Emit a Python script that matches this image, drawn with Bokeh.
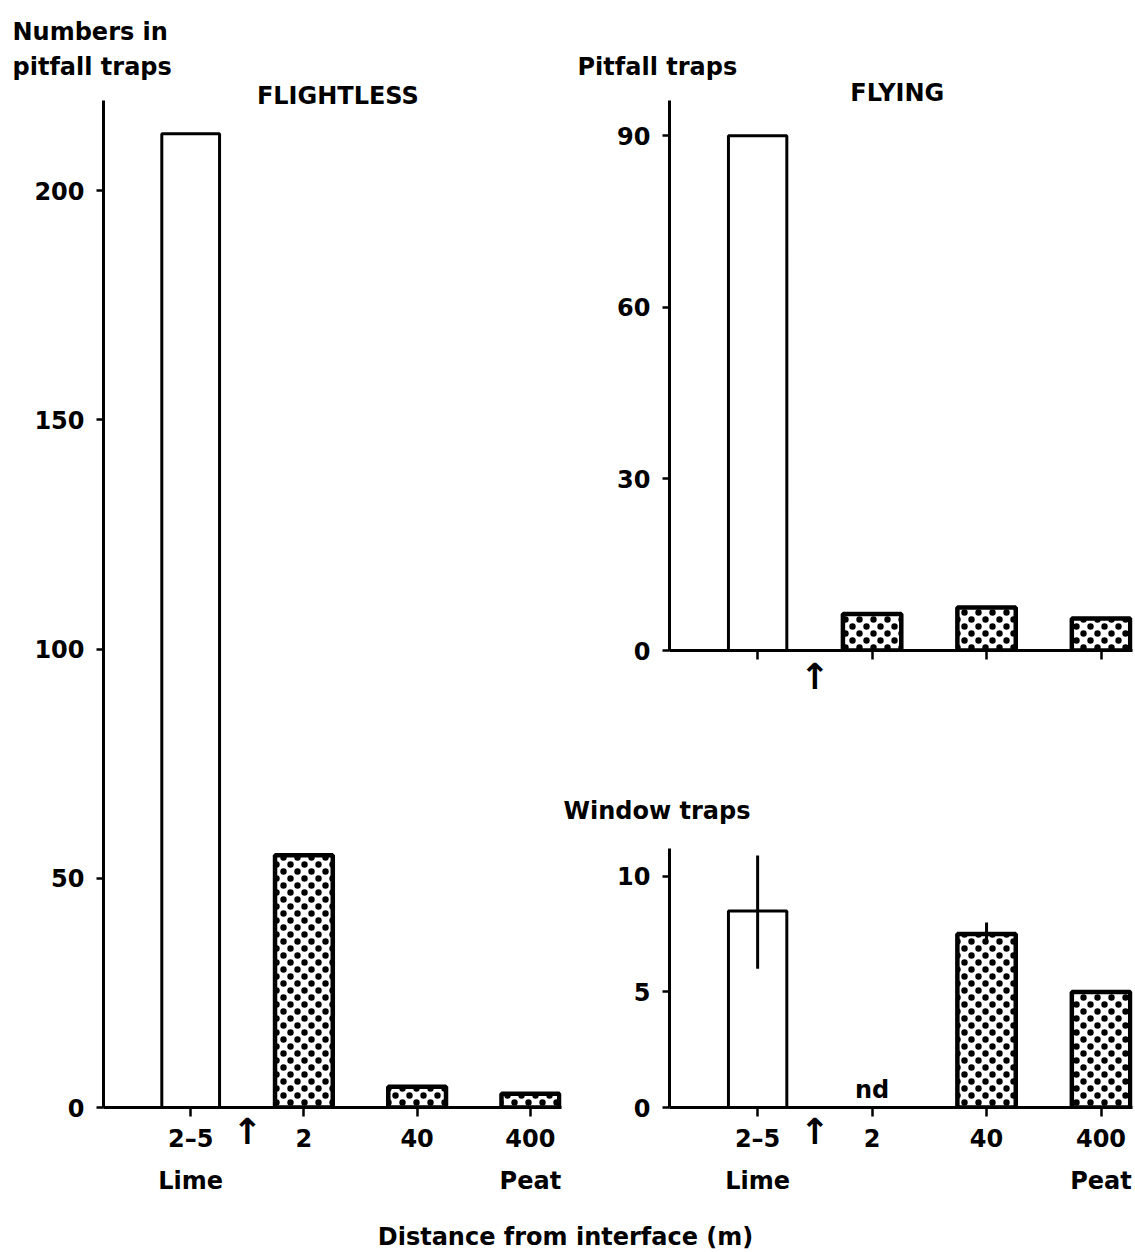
import math
from bokeh.plotting import figure
from bokeh.models import (Range1d, FixedTicker, LinearAxis, Label, Title,
                          ColumnDataSource, CanvasTexture)
from bokeh.layouts import row, column
from bokeh.embed import file_html
from bokeh.resources import INLINE
from bokeh.core.properties import value

NAN = float("nan")

# ---- data ----
categories = ["2–5", "2", "40", "400"]          # distance from interface (m)
habitats = {1: "Lime", 4: "Peat"}
interface_pos = 1.5                            # arrow = lime/peat interface
flightless_pitfall = [212.4, 55.0, 4.5, 3.0]
flying_pitfall = [90.0, 6.4, 7.5, 5.6]
flying_window = [8.5, NAN, 7.5, 5.0]
window_err_low = [6.0, NAN, 7.1, NAN]
window_err_high = [10.9, NAN, 8.0, NAN]
window_notes = ["", "nd", "", ""]
flightless_ticks = [0, 50, 100, 150, 200]
pitfall_ticks = [0, 30, 60, 90]
window_ticks = [0, 5, 10]
bar_hatch = [" ", "stipple", "stipple", "stipple"]   # lime site open, peat sites stippled
bar_line = [3, 4.5, 4.5, 4.5]

xs = list(range(1, len(categories) + 1))
FONT = "DejaVu Sans"
FS = "24px"

# staggered stipple texture (two dots per 14 px tile)
STIPPLE = CanvasTexture(repetition="repeat", code="""
const c = ctx.canvas;
c.width = 14; c.height = 14;
ctx.fillStyle = 'black';
ctx.beginPath(); ctx.arc(3.5, 3.5, 3.2, 0, 2 * Math.PI); ctx.fill();
ctx.beginPath(); ctx.arc(10.5, 10.5, 3.2, 0, 2 * Math.PI); ctx.fill();
""")


def bold(obj, prefix="text_", size=FS):
    setattr(obj, prefix + "font", FONT)
    setattr(obj, prefix + "font_style", "bold")
    setattr(obj, prefix + "font_size", size)
    setattr(obj, prefix + "color", "black")


def plain_axis(ticks, overrides, standoff, size=FS):
    ax = LinearAxis(ticker=FixedTicker(ticks=ticks),
                    major_label_overrides=overrides, axis_line_color=None,
                    major_tick_line_color=None, minor_tick_line_color=None,
                    major_tick_out=0, major_tick_in=0,
                    major_label_standoff=standoff)
    bold(ax, "major_label_text_", size)
    return ax


def make_panel(values, yticks, axis_top, yend, frame_w, frame_h,
               bl, bt, bb, br, show_numbers=True):
    p = figure(frame_width=frame_w, frame_height=frame_h,
               x_range=Range1d(0.23, 4.275), y_range=Range1d(0, yend),
               output_backend="svg", toolbar_location=None,
               min_border_left=bl, min_border_top=bt, min_border_bottom=bb,
               min_border_right=br, background_fill_color="white",
               border_fill_color="white")
    p.outline_line_color = None
    p.xgrid.visible = False
    p.ygrid.visible = False

    ya = p.yaxis[0]
    ya.ticker = FixedTicker(ticks=yticks)
    ya.bounds = (0, axis_top)
    ya.axis_line_width = 3
    ya.major_tick_line_width = 2.5
    ya.major_tick_out = 7
    ya.major_tick_in = 0
    ya.minor_tick_line_color = None
    ya.major_label_standoff = 12
    bold(ya, "major_label_text_")

    # x axis line + tick marks only
    xa = p.xaxis[0]
    xa.ticker = FixedTicker(ticks=xs)
    xa.axis_line_width = 3
    xa.major_tick_line_width = 2.5
    xa.major_tick_out = 9
    xa.major_tick_in = 0
    xa.minor_tick_line_color = None
    xa.major_label_overrides = {x: "" for x in xs}
    xa.major_label_text_font_size = "0px"
    xa.major_label_standoff = 0

    if show_numbers:
        p.add_layout(plain_axis(xs, {x: c for x, c in zip(xs, categories)}, 8), "below")
        # interface arrow, pulled up into the row of distance labels
        p.add_layout(plain_axis([interface_pos], {interface_pos: "↑"}, -45, "36px"), "below")
        p.add_layout(plain_axis(list(habitats.keys()), habitats, 11), "below")
    else:
        p.add_layout(plain_axis([interface_pos], {interface_pos: "↑"}, -4, "36px"), "below")

    src = ColumnDataSource(dict(x=xs, top=values, hatch=bar_hatch, lw=bar_line))
    p.vbar(x="x", top="top", bottom=0, width=0.51, source=src,
           fill_color="white", line_color="black", line_width="lw",
           hatch_pattern="hatch", hatch_color="black", hatch_scale=14,
           hatch_extra={"stipple": STIPPLE})
    return p


def add_title(p, text, offset, standoff):
    t = Title(text=text, align="left", offset=offset, standoff=standoff)
    bold(t)
    p.add_layout(t, "above")


def add_heading(p, text, x, y, dy):
    p.text(x=[x], y=[y], text=[text], text_align="center",
           text_baseline="middle", y_offset=dy, text_font=value(FONT),
           text_font_style="bold", text_font_size=FS, text_color="black")


# ---- left panel: flightless ----
left = make_panel(flightless_pitfall, flightless_ticks, 219.6, 224.0,
                  458, 1027, 103, 80, 93, 1)
add_title(left, "pitfall traps", -91, 0)
add_title(left, "Numbers in", -91, 9)
add_heading(left, "FLIGHTLESS", 2.3, 219.6, -5)

# ---- top right: flying, pitfall traps ----
top_right = make_panel(flying_pitfall, pitfall_ticks, 96.2, 99.65,
                       463, 570, 107, 80, 50, 2, show_numbers=False)
add_title(top_right, "Pitfall traps", -92, 0)
add_heading(top_right, "FLYING", 2.22, 96.2, -7)

# ---- bottom right: flying, window traps ----
bottom_right = make_panel(flying_window, window_ticks, 11.2, 11.2,
                          463, 259, 107, 148, 93, 2)
bottom_right.segment(x0=xs, y0=window_err_low, x1=xs, y1=window_err_high,
                     line_color="black", line_width=3)
bottom_right.text(x=xs, y=[0] * len(xs), text=window_notes,
                  text_align="center", text_baseline="bottom", y_offset=-4,
                  text_font=value(FONT), text_font_style="bold",
                  text_font_size=FS, text_color="black")
add_title(bottom_right, "Window traps", -106, 47)

# ---- shared x label ----
xlab = figure(width=1134, height=50, x_range=Range1d(0, 1),
              y_range=Range1d(0, 1), output_backend="svg",
              toolbar_location=None, min_border=0)
xlab.axis.visible = False
xlab.xgrid.visible = False
xlab.ygrid.visible = False
xlab.outline_line_color = None
t5 = Label(x=565, y=14, x_units="screen", y_units="screen",
           text="Distance from interface (m)", text_align="center",
           text_baseline="middle")
bold(t5)
xlab.add_layout(t5)

layout = column(row(left, column(top_right, bottom_right)), xlab)

open("out.html", "w").write(file_html(layout, INLINE))
